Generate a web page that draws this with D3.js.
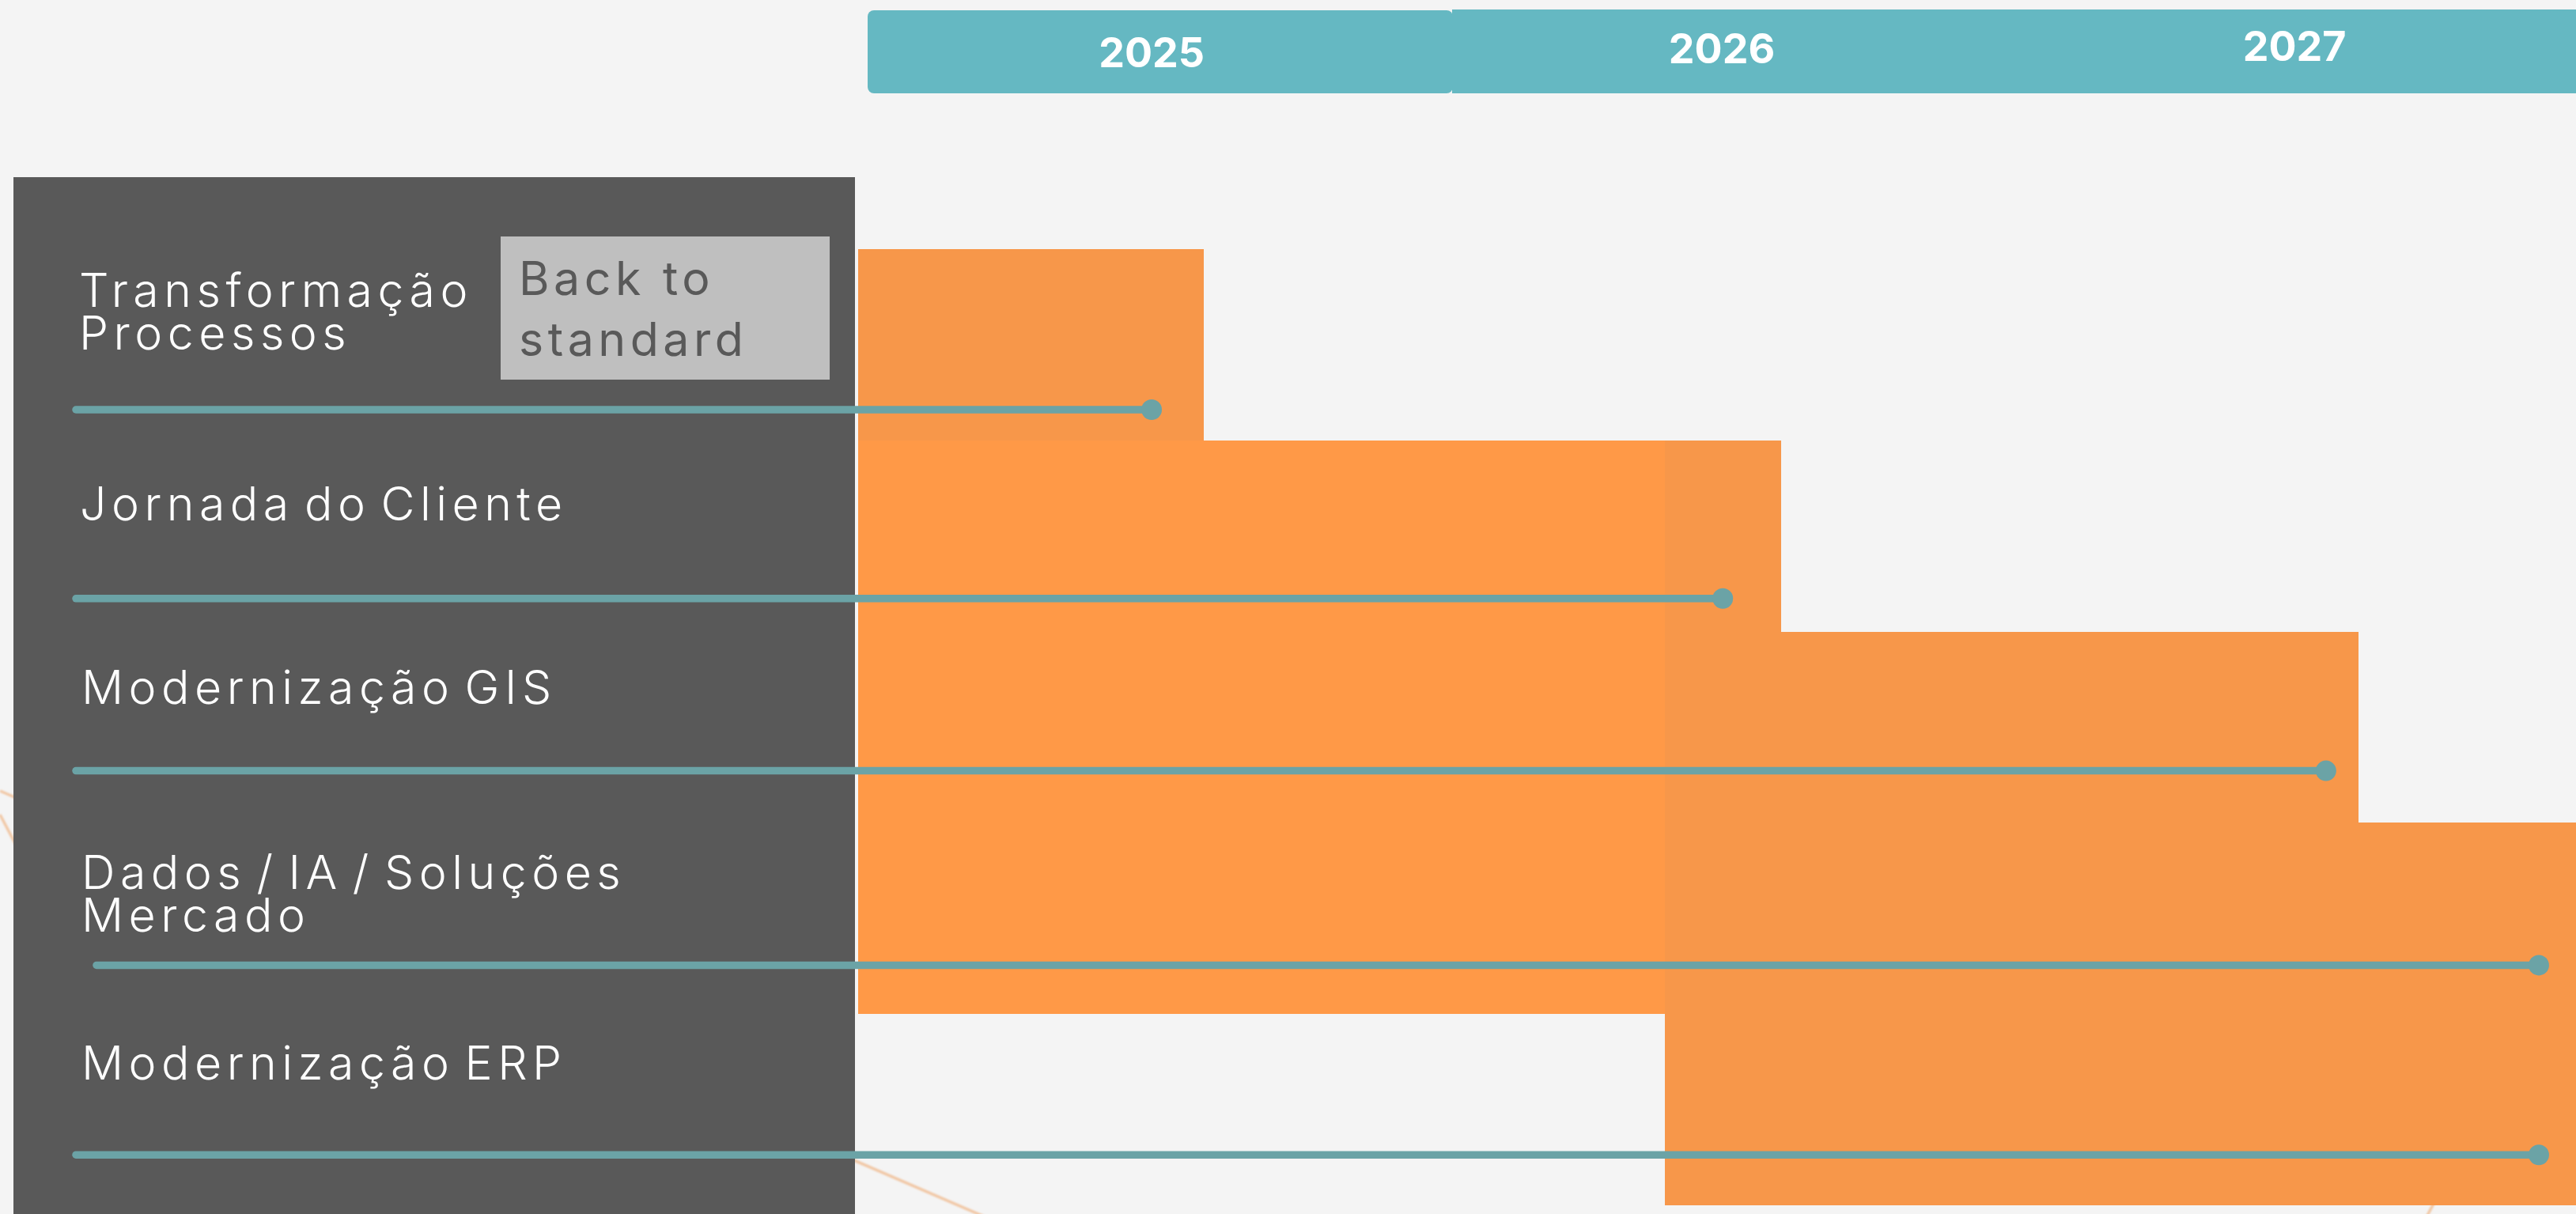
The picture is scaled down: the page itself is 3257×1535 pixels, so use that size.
<!DOCTYPE html>
<html lang="pt">
<head>
<meta charset="utf-8">
<title>Roadmap 2025–2027</title>
<script src="https://cdn.jsdelivr.net/npm/d3@7"></script>
<style>
  html, body { margin: 0; padding: 0; background: #F4F4F4; overflow: hidden; }
  svg { display: block; }
</style>
</head>
<body>
<div id="chart"></div>
<script>
// ---- Data -------------------------------------------------------------
// Timeline is measured in months from January 2025 (0) to December 2027 (36).
const categories = [
  "Transformação Processos",
  "Jornada do Cliente",
  "Modernização GIS",
  "Dados / IA / Soluções Mercado",
  "Modernização ERP"
];
const categoryLines = [
  ["Transformação", "Processos"],
  ["Jornada do Cliente"],
  ["Modernização GIS"],
  ["Dados / IA / Soluções", "Mercado"],
  ["Modernização ERP"]
];

// Header ribbon (years)
const years       = ["2025", "2026", "2027"];
const yearStart   = [0.2, 12.45, 23.8];
const yearEnd     = [12.45, 23.8, 37];
const yearLabelAt = [6.15, 18.1, 30.1];

// Gantt segments: row, start month, end month, phase
const segRow   = [0, 1, 1, 2, 2, 3, 3, 4];
const segStart = [0, 0, 16.9, 0, 16.9, 0, 16.9, 16.9];
const segEnd   = [7.25, 16.9, 19.35, 16.9, 31.45, 16.9, 36, 36];
const segPhase = ["continuação", "inicial", "continuação", "inicial", "continuação", "inicial", "continuação", "continuação"];

// Milestone (delivery) month for each initiative
const milestoneAt = [6.15, 18.12, 30.76, 35.22, 35.22];

// Tag shown next to the first initiative
const tagLines = ["Back to", "standard"];

// ---- Layout -----------------------------------------------------------
const W = 3257, H = 1535;
const font = "Inter, 'Open Sans', 'Noto Sans', sans-serif";
const colors = {
  bg: "#F4F4F4",
  panel: "#595959",
  tag: "#BFBFBF",
  tagText: "#595959",
  header: "#65B8C2",
  line: "#6BA3A6",
  deco: "#F1C7A5"
};
const labelX = [100, 101, 103, 103, 103];
const labelDy = [73, 101, 91, 84, 83];      // first baseline below row top
const labelLead = 54;                        // line spacing inside a label
const lineDy = [203, 200, 176, 180, 178];    // milestone track below row top
const lineX0 = [96, 96, 96, 122, 96];

const x = d3.scaleLinear().domain([0, 36]).range([1085, 3257]);
const y = d3.scaleBand().domain(d3.range(categories.length)).range([315, 1524]).padding(0);
const phaseColor = d3.scaleOrdinal()
  .domain(["inicial", "continuação"])
  .range(["#FF9947", "#F7974A"]);

const svg = d3.select("#chart").append("svg")
  .attr("width", W).attr("height", H)
  .attr("viewBox", `0 0 ${W} ${H}`);

svg.append("rect").attr("width", W).attr("height", H).attr("fill", colors.bg);

// Soft decorative strokes in the background
const defs = svg.append("defs");
defs.append("filter").attr("id", "soft")
  .append("feGaussianBlur").attr("stdDeviation", 1.2);
const deco = [
  [[0, 1000], [1260, 1545]],
  [[0, 1030], [300, 1600]],
  [[3062, 1550], [3110, 1460]]
];
svg.append("g").attr("filter", "url(#soft)")
  .selectAll("line").data(deco).join("line")
  .attr("x1", d => d[0][0]).attr("y1", d => d[0][1])
  .attr("x2", d => d[1][0]).attr("y2", d => d[1][1])
  .attr("stroke", colors.deco).attr("stroke-width", 3.5);

// Header ribbon
const header = svg.append("g");
header.selectAll("rect").data(years).join("rect")
  .attr("x", (d, i) => Math.round(x(yearStart[i])))
  .attr("y", (d, i) => i === 0 ? 13 : 12)
  .attr("width", (d, i) => Math.round(x(yearEnd[i])) - Math.round(x(yearStart[i])) + (i < years.length - 1 ? 1 : 0))
  .attr("height", (d, i) => i === 0 ? 105 : 106)
  .attr("rx", (d, i) => i === 0 ? 8 : 0)
  .attr("shape-rendering", (d, i) => i === 0 ? "auto" : "crispEdges")
  .attr("fill", colors.header);
header.selectAll("text").data(years).join("text")
  .attr("x", (d, i) => x(yearLabelAt[i]))
  .attr("y", (d, i) => [85, 80, 77][i])
  .attr("text-anchor", "middle")
  .attr("font-family", font)
  .attr("font-weight", 700)
  .attr("font-size", 52)
  .attr("fill", "#FFFFFF")
  .text(d => d);

// Left panel with initiative names
svg.append("rect")
  .attr("x", 17).attr("y", 224)
  .attr("width", 1064).attr("height", H - 224 + 10)
  .attr("fill", colors.panel);

// Gantt bars
svg.append("g").attr("shape-rendering", "crispEdges")
  .selectAll("rect").data(segRow).join("rect")
  .attr("x", (r, i) => Math.round(x(segStart[i])))
  .attr("y", r => Math.round(y(r)))
  .attr("width", (r, i) => Math.round(x(segEnd[i])) - Math.round(x(segStart[i])))
  .attr("height", r => Math.round(y(r) + y.bandwidth()) - Math.round(y(r)))
  .attr("fill", (r, i) => phaseColor(segPhase[i]));

// Initiative labels
const labels = svg.append("g")
  .attr("font-family", font)
  .attr("font-weight", 300)
  .attr("font-size", 59)
  .attr("letter-spacing", 6.5)
  .attr("word-spacing", -10)
  .attr("fill", "#FFFFFF");
labels.selectAll("text").data(categories).join("text")
  .attr("x", (d, i) => labelX[i])
  .attr("y", (d, i) => y(i) + labelDy[i])
  .selectAll("tspan").data((d, i) => categoryLines[i].map(t => ({ t, i })))
  .join("tspan")
  .attr("x", d => labelX[d.i])
  .attr("dy", (d, j) => j === 0 ? 0 : labelLead)
  .text(d => d.t);

// Tag box
const tag = svg.append("g");
tag.append("rect")
  .attr("x", 633).attr("y", y(0) - 16)
  .attr("width", 416).attr("height", 181)
  .attr("fill", colors.tag);
tag.append("text")
  .attr("font-family", font)
  .attr("font-weight", 400)
  .attr("font-size", 59)
  .attr("letter-spacing", 5.5)
  .attr("fill", colors.tagText)
  .selectAll("tspan").data(tagLines).join("tspan")
  .attr("x", 656)
  .attr("y", (d, i) => y(0) + 58 + i * 77)
  .text(d => d);

// Milestone tracks and end points
const tracks = svg.append("g");
tracks.selectAll("line").data(milestoneAt).join("line")
  .attr("x1", (d, i) => lineX0[i])
  .attr("x2", d => x(d))
  .attr("y1", (d, i) => y(i) + lineDy[i])
  .attr("y2", (d, i) => y(i) + lineDy[i])
  .attr("stroke", colors.line)
  .attr("stroke-width", 9.5)
  .attr("stroke-linecap", "round");
tracks.selectAll("circle").data(milestoneAt).join("circle")
  .attr("cx", d => x(d))
  .attr("cy", (d, i) => y(i) + lineDy[i])
  .attr("r", 13)
  .attr("fill", colors.line);
</script>
</body>
</html>
